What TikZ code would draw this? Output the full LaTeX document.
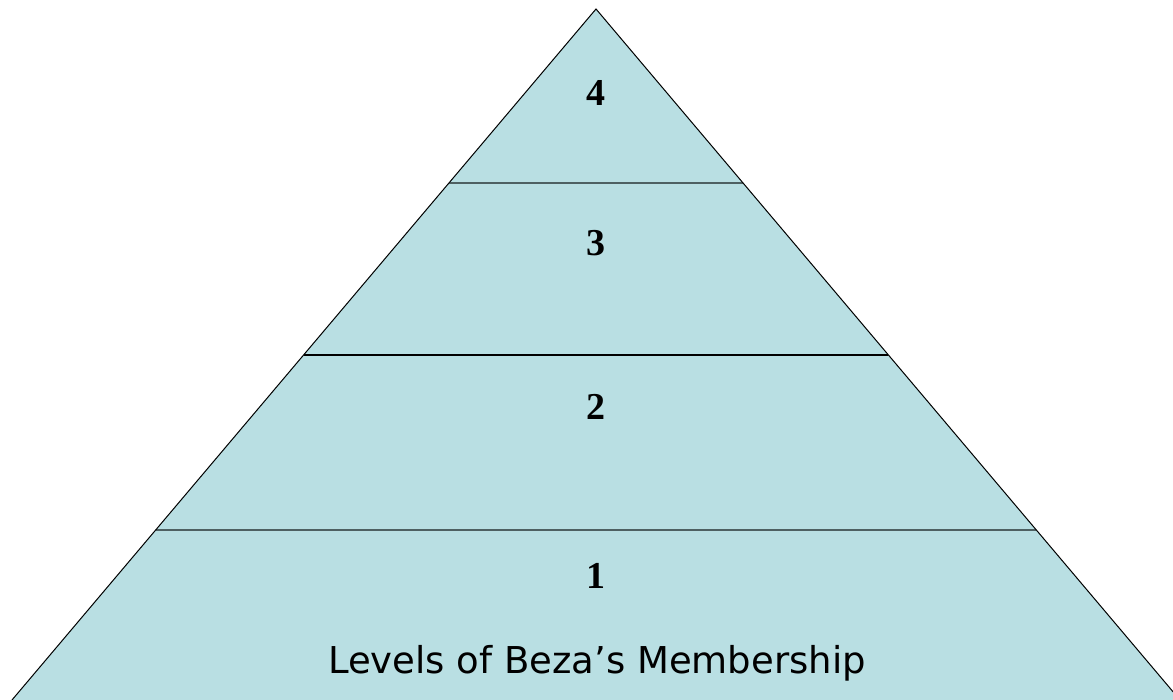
\documentclass[tikz,border=0pt]{standalone}
\usepackage{fontspec}
\setmainfont{Liberation Serif}
\newfontfamily\labelfont{DejaVu Sans}
\usetikzlibrary{calc}
\definecolor{pyrfill}{RGB}{185,223,227}
\definecolor{sepgray}{RGB}{78,96,98}
\tikzset{
  level/.style={font=\bfseries\fontsize{38}{42}\selectfont, anchor=base, inner sep=0pt},
  caption/.style={font=\labelfont\fontsize{37}{42}\selectfont, anchor=base, inner sep=0pt},
  edge/.style={draw=black, line width=1pt},
  sepA/.style={draw=sepgray, line width=2.6pt},
  sepB/.style={draw=black, line width=2.2pt}
}
\begin{document}
\begin{tikzpicture}[x=1pt,y=-1pt]
\useasboundingbox (0,0) rectangle (1173,700);
\clip (0,0) rectangle (1173,700);
\coordinate (apex) at (596,9);
\coordinate (bl) at (12,700);
\coordinate (br) at (1180,700);
\fill[pyrfill] (apex) -- (bl) -- (br) -- cycle;
\coordinate (l3) at ($(apex)!0.2518!(bl)$);
\coordinate (r3) at ($(apex)!0.2518!(br)$);
\coordinate (l2) at ($(apex)!0.5007!(bl)$);
\coordinate (r2) at ($(apex)!0.5007!(br)$);
\coordinate (l1) at ($(apex)!0.754!(bl)$);
\coordinate (r1) at ($(apex)!0.754!(br)$);
\draw[sepA] (l3) -- (r3);
\draw[sepB] (l2) -- (r2);
\draw[sepA] (l1) -- (r1);
\draw[edge] (bl) -- (apex) -- (br);
\node[level] (n4) at (596,106) {4};
\node[level] (n3) at (596,256) {3};
\node[level] (n2) at (596,420) {2};
\node[level] (n1) at (596,588) {1};
\node[caption] (cap) at (597,673) {Levels of Beza’s Membership};
\end{tikzpicture}
\end{document}
